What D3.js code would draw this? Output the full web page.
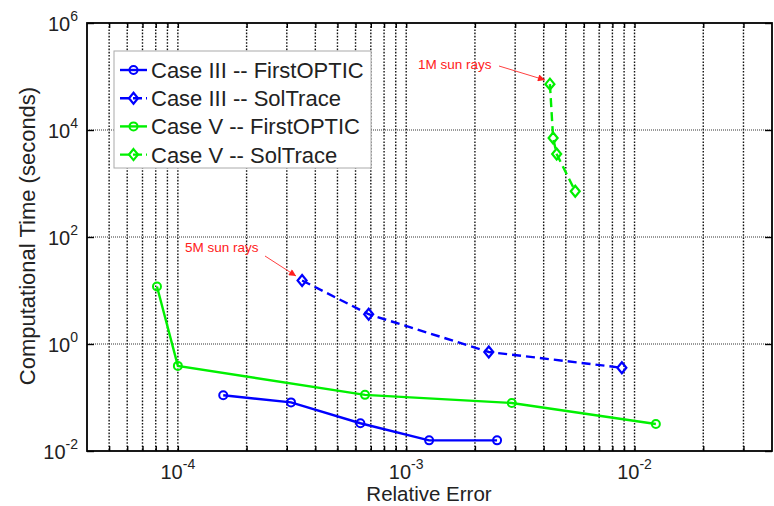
<!DOCTYPE html>
<html>
<head>
<meta charset="utf-8">
<script src="https://cdn.jsdelivr.net/npm/d3@7"></script>
<style>
  html, body { margin: 0; padding: 0; background: #fff; }
  svg { display: block; font-family: Arial, "Liberation Sans", sans-serif; }
</style>
</head>
<body>
<div id="chart"></div>
<script>
// values
const case3FirstErr = [1.58e-4, 3.13e-4, 6.3e-4, 1.26e-3, 2.5e-3];
const case3FirstTime = [0.11, 0.081, 0.033, 0.0158, 0.0158];

const case3SolErr = [3.5e-4, 6.85e-4, 2.3e-3, 8.8e-3];
const case3SolTime = [15.4, 3.6, 0.71, 0.36];

const case5FirstErr = [8.1e-5, 1.0e-4, 6.6e-4, 2.9e-3, 1.24e-2];
const case5FirstTime = [11.9, 0.39, 0.112, 0.079, 0.032];

const case5SolErr = [4.26e-3, 4.4e-3, 4.56e-3, 5.5e-3];
const case5SolTime = [72000, 7100, 3560, 715];

const seriesNames = [
  'Case III -- FirstOPTIC',
  'Case III -- SolTrace',
  'Case V -- FirstOPTIC',
  'Case V -- SolTrace',
];

const xTickExps = [-4, -3, -2];
const yTickExps = [-2, 0, 2, 4, 6];

const width = 774;
const height = 506;
const margin = { top: 23, right: 2, bottom: 55, left: 87 };

const usableArea = {
  left: margin.left,
  top: margin.top,
  right: width - margin.right,
  bottom: height - margin.bottom,
};
usableArea.width = usableArea.right - usableArea.left;
usableArea.height = usableArea.bottom - usableArea.top;

const svg = d3
  .select('#chart')
  .append('svg')
  .attr('width', width)
  .attr('height', height);

const xScale = d3
  .scaleLog()
  .domain([4e-5, 4e-2])
  .range([usableArea.left, usableArea.right]);

const yScale = d3
  .scaleLog()
  .domain([1e-2, 1e6])
  .range([usableArea.bottom, usableArea.top]);

// minor + major positions for the vertical grid
let xGrid = [];
for (let e = -5; e <= -2; e++) {
  for (let m = 1; m <= 9; m++) {
    let v = m * Math.pow(10, e);
    if (v > 4.01e-5 && v < 3.99e-2) xGrid.push(v);
  }
}
const yGrid = yTickExps.map((e) => Math.pow(10, e));

svg
  .append('rect')
  .attr('x', usableArea.left)
  .attr('y', usableArea.top)
  .attr('width', usableArea.width)
  .attr('height', usableArea.height)
  .attr('fill', '#fff');

// gridlines
svg
  .append('g')
  .attr('class', 'gridlines')
  .selectAll('line.vx')
  .data(xGrid)
  .join('line')
  .attr('x1', (d) => xScale(d))
  .attr('x2', (d) => xScale(d))
  .attr('y1', usableArea.top)
  .attr('y2', usableArea.bottom)
  .attr('stroke', '#111')
  .attr('stroke-width', 1.4)
  .attr('stroke-dasharray', '1.6,1.6');

svg
  .select('.gridlines')
  .selectAll('line.hy')
  .data(yGrid.slice(1, -1))
  .join('line')
  .attr('class', 'hy')
  .attr('x1', usableArea.left)
  .attr('x2', usableArea.right)
  .attr('y1', (d) => yScale(d))
  .attr('y2', (d) => yScale(d))
  .attr('stroke', '#333')
  .attr('stroke-width', 1)
  .attr('stroke-dasharray', '1,1');

// tick marks on all four sides, pointing inward
function tickStyle(g) {
  g.select('.domain').remove();
  g.selectAll('.tick line').attr('stroke', '#000').attr('stroke-width', 1.4);
  g.selectAll('.tick text').remove();
}

svg
  .append('g')
  .attr('transform', `translate(0, ${usableArea.bottom})`)
  .call(d3.axisBottom(xScale).tickValues(xGrid).tickSize(-5))
  .call(tickStyle);

svg
  .append('g')
  .attr('transform', `translate(0, ${usableArea.top})`)
  .call(d3.axisTop(xScale).tickValues(xGrid).tickSize(-5))
  .call(tickStyle);

svg
  .append('g')
  .attr('transform', `translate(${usableArea.left}, 0)`)
  .call(d3.axisLeft(yScale).tickValues(yGrid).tickSize(-7))
  .call(tickStyle);

svg
  .append('g')
  .attr('transform', `translate(${usableArea.right}, 0)`)
  .call(d3.axisRight(yScale).tickValues(yGrid).tickSize(-7))
  .call(tickStyle);

// frame
svg
  .append('rect')
  .attr('x', usableArea.left)
  .attr('y', usableArea.top)
  .attr('width', usableArea.width)
  .attr('height', usableArea.height)
  .attr('fill', 'none')
  .attr('stroke', '#000')
  .attr('stroke-width', 1.8);

// tick labels as 10^n
function powerLabel(sel, exp) {
  sel.append('tspan').text('10');
  sel
    .append('tspan')
    .attr('dy', -10)
    .attr('font-size', 14)
    .text(exp);
}

svg
  .append('g')
  .selectAll('text')
  .data(xTickExps)
  .join('text')
  .attr('x', (d) => xScale(Math.pow(10, d)))
  .attr('y', usableArea.bottom + 28)
  .attr('text-anchor', 'middle')
  .attr('font-size', 20)
  .attr('fill', '#222')
  .each(function (d) {
    powerLabel(d3.select(this), d);
  });

svg
  .append('g')
  .selectAll('text')
  .data(yTickExps)
  .join('text')
  .attr('x', usableArea.left - 9)
  .attr('y', (d) => yScale(Math.pow(10, d)) + 8)
  .attr('text-anchor', 'end')
  .attr('font-size', 20)
  .attr('fill', '#222')
  .each(function (d) {
    powerLabel(d3.select(this), d);
  });

// axis titles
svg
  .append('text')
  .attr('x', 429)
  .attr('y', 501)
  .attr('text-anchor', 'middle')
  .attr('font-size', 20.5)
  .attr('fill', '#222')
  .text('Relative Error');

svg
  .append('text')
  .attr('transform', `translate(35, 236) rotate(-90)`)
  .attr('text-anchor', 'middle')
  .attr('font-size', 22)
  .attr('fill', '#222')
  .text('Computational Time (seconds)');

// series
const series = [
  { name: seriesNames[0], xs: case3FirstErr, ys: case3FirstTime, color: '#0000ff', dashed: false, marker: 'circle' },
  { name: seriesNames[1], xs: case3SolErr, ys: case3SolTime, color: '#0000ff', dashed: true, marker: 'diamond' },
  { name: seriesNames[2], xs: case5FirstErr, ys: case5FirstTime, color: '#00f000', dashed: false, marker: 'circle' },
  { name: seriesNames[3], xs: case5SolErr, ys: case5SolTime, color: '#00f000', dashed: true, marker: 'diamond' },
];

const line = d3
  .line()
  .x((d) => xScale(d[0]))
  .y((d) => yScale(d[1]));

function drawMarker(g, type, x, y, color) {
  if (type === 'circle') {
    g.append('circle')
      .attr('cx', x)
      .attr('cy', y)
      .attr('r', 4)
      .attr('fill', 'none')
      .attr('stroke', color)
      .attr('stroke-width', 2);
  } else {
    g.append('path')
      .attr('d', `M${x},${y - 5.5}L${x + 4.5},${y}L${x},${y + 5.5}L${x - 4.5},${y}Z`)
      .attr('fill', 'none')
      .attr('stroke', color)
      .attr('stroke-width', 2.2);
  }
}

const plot = svg.append('g').attr('class', 'series');

series.forEach((s) => {
  let pts = d3.zip(s.xs, s.ys);
  plot
    .append('path')
    .datum(pts)
    .attr('d', line)
    .attr('fill', 'none')
    .attr('stroke', s.color)
    .attr('stroke-width', 2.4)
    .attr('stroke-dasharray', s.dashed ? '9,5' : null);
  pts.forEach(([x, y]) => drawMarker(plot, s.marker, xScale(x), yScale(y), s.color));
});

// annotations
const defs = svg.append('defs');
defs
  .append('marker')
  .attr('id', 'arrow')
  .attr('viewBox', '0 0 10 10')
  .attr('refX', 10)
  .attr('refY', 5)
  .attr('markerWidth', 9)
  .attr('markerHeight', 7)
  .attr('markerUnits', 'userSpaceOnUse')
  .attr('orient', 'auto')
  .append('path')
  .attr('d', 'M0,0L10,5L0,10Z')
  .attr('fill', '#ff2020');

const notes = [
  { text: '1M sun rays', tx: 418, ty: 69, x1: 499, y1: 66, x2: 545, y2: 80 },
  { text: '5M sun rays', tx: 185, ty: 252, x1: 265, y1: 256, x2: 296, y2: 276 },
];

notes.forEach((n) => {
  svg
    .append('text')
    .attr('x', n.tx)
    .attr('y', n.ty)
    .attr('font-size', 13.5)
    .attr('fill', '#ff2020')
    .text(n.text);
  svg
    .append('line')
    .attr('x1', n.x1)
    .attr('y1', n.y1)
    .attr('x2', n.x2)
    .attr('y2', n.y2)
    .attr('stroke', '#ff4040')
    .attr('stroke-width', 1)
    .attr('marker-end', 'url(#arrow)');
});

// legend
const legend = svg.append('g').attr('class', 'legend');
legend
  .append('rect')
  .attr('x', 114)
  .attr('y', 51)
  .attr('width', 257)
  .attr('height', 117)
  .attr('fill', '#fff')
  .attr('stroke', '#aaa')
  .attr('stroke-width', 1);

series.forEach((s, i) => {
  let ly = 70 + i * 28.2;
  legend
    .append('line')
    .attr('x1', 120)
    .attr('x2', 147)
    .attr('y1', ly)
    .attr('y2', ly)
    .attr('stroke', s.color)
    .attr('stroke-width', 2.4)
    .attr('stroke-dasharray', s.dashed ? '9,4' : null);
  drawMarker(legend, s.marker, 133.5, ly, s.color);
  legend
    .append('text')
    .attr('x', 151)
    .attr('y', ly + 8)
    .attr('font-size', 22)
    .attr('fill', '#222')
    .text(s.name);
});
</script>
</body>
</html>
